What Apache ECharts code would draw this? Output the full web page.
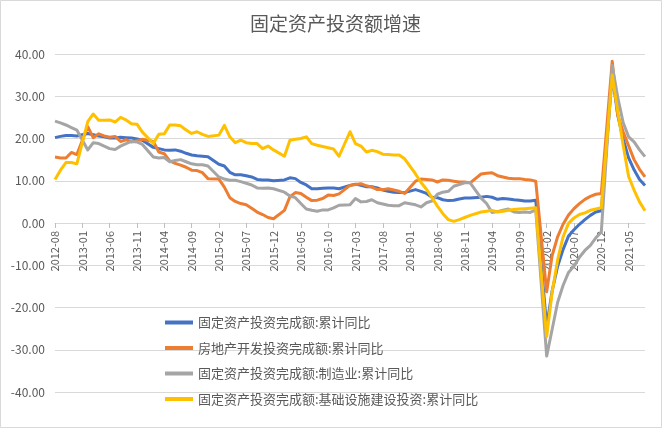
<!DOCTYPE html>
<html>
<head>
<meta charset="utf-8">
<script src="https://cdn.jsdelivr.net/npm/echarts@6/dist/echarts.min.js"></script>
<style>
html,body{margin:0;padding:0;background:#fff;}
#chart{width:671px;height:429px;}
</style>
</head>
<body>
<div id="chart"></div>
<script>
// Monthly categories 2012-08 .. 2021-08
var categories = [];
(function(){
  var y = 2012, m = 8;
  while (y < 2021 || (y === 2021 && m <= 8)) {
    categories.push(y + '-' + (m < 10 ? '0' + m : m));
    m++; if (m > 12) { m = 1; y++; }
  }
})();

var seriesNames = [
  '固定资产投资完成额:累计同比',
  '房地产开发投资完成额:累计同比',
  '固定资产投资完成额:制造业:累计同比',
  '固定资产投资完成额:基础设施建设投资:累计同比'
];

var yTicks = {min: -40, max: 40, step: 10};

// January has no separate release (null)
var fai = [
  20.2, 20.5, 20.7, 20.7, 20.6,
  null, 21.2, 20.9, 20.6, 20.4, 20.1, 20.1, 20.3, 20.2, 20.1, 19.9, 19.6,
  null, 17.9, 17.6, 17.3, 17.2, 17.3, 17.0, 16.5, 16.1, 15.9, 15.8, 15.7,
  null, 13.9, 13.5, 12.0, 11.4, 11.4, 11.2, 10.9, 10.3, 10.2, 10.2, 10.0,
  null, 10.2, 10.7, 10.5, 9.6, 9.0, 8.1, 8.1, 8.2, 8.3, 8.3, 8.1,
  null, 8.9, 9.2, 8.9, 8.6, 8.6, 8.3, 7.8, 7.5, 7.3, 7.2, 7.2,
  null, 7.9, 7.5, 7.0, 6.1, 6.0, 5.5, 5.3, 5.4, 5.7, 5.9, 5.9,
  null, 6.1, 6.3, 6.1, 5.6, 5.8, 5.7, 5.5, 5.4, 5.2, 5.2, 5.4,
  null, -24.5, -16.1, -10.3, -6.3, -3.1, -1.6, -0.3, 0.8, 1.8, 2.6, 2.9,
  null, 35.0, 25.6, 19.9, 15.4, 12.6, 10.3, 8.9
];

var realEstate = [
  15.6, 15.4, 15.4, 16.7, 16.2,
  null, 22.8, 20.2, 21.1, 20.6, 20.3, 20.5, 19.3, 19.7, 19.2, 19.5, 19.8,
  null, 19.3, 16.8, 16.4, 14.7, 14.1, 13.7, 13.2, 12.5, 12.4, 11.9, 10.5,
  null, 10.4, 8.5, 6.0, 5.1, 4.6, 4.3, 3.5, 2.6, 2.0, 1.3, 1.0,
  null, 3.0, 6.2, 7.2, 7.0, 6.1, 5.3, 5.4, 5.8, 6.6, 6.5, 6.9,
  null, 8.9, 9.1, 9.3, 8.8, 8.5, 7.9, 7.9, 8.1, 7.8, 7.5, 7.0,
  null, 9.9, 10.4, 10.3, 10.2, 9.7, 10.2, 10.1, 9.9, 9.7, 9.7, 9.5,
  null, 11.6, 11.8, 11.9, 11.2, 10.9, 10.6, 10.5, 10.5, 10.3, 10.2, 9.9,
  null, -16.3, -7.7, -3.3, -0.3, 1.9, 3.4, 4.6, 5.6, 6.3, 6.8, 7.0,
  null, 38.3, 25.6, 21.6, 18.3, 15.0, 12.7, 10.9
];

var manufacturing = [
  24.1, 23.7, 23.2, 22.6, 22.0,
  null, 17.3, 19.0, 18.8, 18.2, 17.6, 17.4, 18.2, 18.8, 19.3, 19.2, 18.6,
  null, 15.6, 15.4, 15.5, 14.5, 14.8, 15.0, 14.5, 14.0, 13.8, 13.8, 13.5,
  null, 10.9, 10.4, 10.1, 10.1, 9.8, 9.4, 9.0, 8.3, 8.2, 8.3, 8.1,
  null, 7.3, 6.4, 6.0, 4.6, 3.3, 3.0, 2.8, 3.1, 3.1, 3.6, 4.2,
  null, 4.3, 5.8, 5.0, 5.1, 5.5, 4.8, 4.5, 4.2, 4.1, 4.1, 4.8,
  null, 4.3, 3.8, 4.8, 5.2, 6.8, 7.3, 7.5, 8.7, 9.1, 9.5, 9.5,
  null, 5.9, 4.6, 2.5, 2.7, 3.0, 3.3, 2.6, 2.5, 2.6, 2.5, 3.1,
  null, -31.5, -25.2, -18.8, -14.8, -11.7, -10.2, -8.1, -6.5, -5.3, -3.5, -2.2,
  null, 37.3, 29.8, 23.8, 20.4, 19.2, 17.3, 15.7
];

var infrastructure = [
  10.3, 12.5, 14.3, 14.3, 14.0,
  null, 24.0, 25.8, 24.3, 24.3, 24.4, 23.9, 25.0, 24.4, 23.5, 23.4, 21.5,
  null, 18.8, 21.0, 21.1, 23.2, 23.2, 23.0, 22.0, 21.2, 21.6, 21.0, 20.5,
  null, 20.8, 23.1, 20.4, 19.0, 19.6, 19.0, 18.8, 18.8, 17.6, 18.2, 17.3,
  null, 15.8, 19.6, 19.8, 20.0, 20.4, 18.8, 18.4, 18.1, 17.8, 17.5, 15.8,
  null, 21.6, 18.8, 18.2, 16.8, 17.2, 16.9, 16.3, 16.2, 16.1, 16.1, 15.2,
  null, 11.6, 9.6, 8.0, 6.0, 4.0, 2.2, 0.8, 0.4, 0.8, 1.3, 1.8,
  null, 2.6, 2.8, 3.0, 2.6, 2.8, 3.0, 3.2, 3.3, 3.4, 3.5, 3.6,
  null, -26.9, -16.4, -8.8, -3.3, -0.1, 1.2, 2.0, 2.4, 3.0, 3.3, 3.6,
  null, 35.0, 26.5, 18.4, 11.0, 7.8, 5.0, 2.9
];

var colors = ['#4472C4', '#ED7D31', '#A5A5A5', '#FFC000'];
var allData = [fai, realEstate, manufacturing, infrastructure];
var FONT = '"Noto Sans CJK SC", "Noto Sans", sans-serif';

var GRID = {left: 55, right: 26, top: 54, bottom: 37};
var plotH = 429 - GRID.top - GRID.bottom;
// put the category axis at the zero line (offset measured from the bottom edge)
var zeroOffset = -plotH * (0 - yTicks.min) / (yTicks.max - yTicks.min);

var chart = echarts.init(document.getElementById('chart'), null, {renderer: 'canvas'});
var option = {
  backgroundColor: '#fff',
  animation: false,
  color: colors,
  textStyle: {fontFamily: FONT},
  title: {
    text: '固定资产投资额增速',
    left: 'center',
    top: 9,
    textStyle: {fontSize: 19, fontWeight: 'normal', color: '#595959', fontFamily: FONT}
  },
  graphic: [{
    type: 'rect',
    shape: {x: 0.5, y: 0.5, width: 661, height: 427},
    style: {fill: 'none', stroke: '#d9d9d9', lineWidth: 1},
    silent: true
  }],
  legend: {
    orient: 'vertical',
    left: 165,
    top: 316,
    padding: 0,
    icon: 'rect',
    itemWidth: 28,
    itemHeight: 4,
    itemGap: 12.5,
    textStyle: {fontSize: 13, color: '#595959', fontFamily: FONT},
    data: seriesNames
  },
  grid: {left: GRID.left, right: GRID.right, top: GRID.top, bottom: GRID.bottom, containLabel: false, outerBoundsMode: 'none'},
  xAxis: {
    type: 'category',
    position: 'bottom',
    offset: zeroOffset,
    boundaryGap: false,
    data: categories,
    axisLine: {onZero: false, lineStyle: {color: '#d9d9d9', width: 1}},
    axisTick: {show: true, interval: 4, length: 5, lineStyle: {color: '#bfbfbf'}},
    axisLabel: {interval: 4, rotate: 90, fontSize: 11, color: '#595959', margin: 8, fontFamily: FONT},
    splitLine: {show: false}
  },
  yAxis: {
    type: 'value',
    min: yTicks.min,
    max: yTicks.max,
    interval: yTicks.step,
    axisLine: {show: false},
    axisTick: {show: false},
    axisLabel: {fontSize: 12, color: '#595959', margin: 10, fontFamily: FONT,
      formatter: function (v) { return v.toFixed(2); }},
    splitLine: {lineStyle: {color: '#d9d9d9', width: 1}}
  },
  series: seriesNames.map(function (name, i) {
    return {
      name: name,
      type: 'line',
      data: allData[i],
      connectNulls: true,
      showSymbol: false,
      symbol: 'none',
      smooth: false,
      lineStyle: {width: 3, color: colors[i], join: 'round'},
      itemStyle: {color: colors[i]}
    };
  })
};
chart.setOption(option);
</script>
</body>
</html>
